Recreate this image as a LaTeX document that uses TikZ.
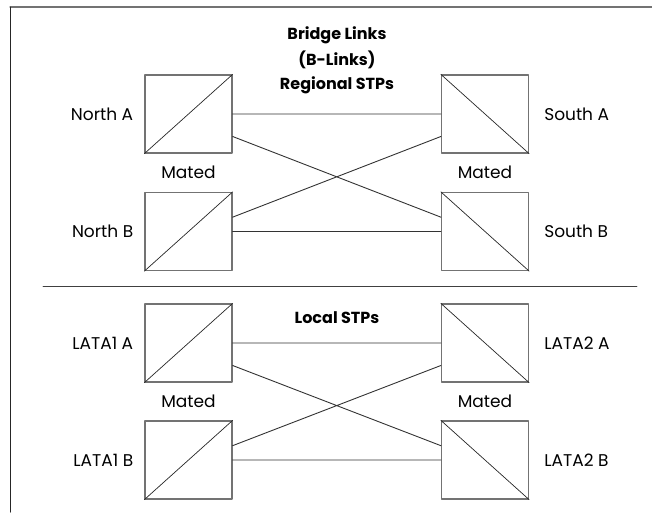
\documentclass[tikz,border=0pt]{standalone}
\usepackage{fontspec}
\setmainfont{Poppins}
\usetikzlibrary{positioning,calc}
\begin{document}
\begin{tikzpicture}[x=1pt, y=-1pt, line join=round, line cap=round,
    stp/.style={draw=black!55, line width=1.2pt, minimum width=87pt, minimum height=78pt, inner sep=0pt},
    diag/.style={black!85, line width=0.7pt},
    lbl/.style={font=\fontsize{17}{20}\selectfont, inner sep=0pt},
    ttl/.style={font=\fontsize{16}{19}\selectfont\bfseries, inner sep=0pt},
    link/.style={black!80, line width=0.9pt}]
    \useasboundingbox (0,0) rectangle (652,512);
    % frame and separator
    \draw[black!55, line width=1.2pt] (10,7)--(652,7);
    \draw[black!85, line width=1pt] (10,7)--(10,512);
    \draw[black!75, line width=0.9pt] (43,286)--(637,286);
    % STP boxes
    \foreach \n/\y in {nA/114, nB/231.5, lA/343, lB/460}{
        \node[stp] (\n) at (188.5,\y) {};
        \draw[diag] (\n.south west)--(\n.north east);
    }
    \foreach \n/\y in {sA/114, sB/231.5, rA/343, rB/460}{
        \node[stp] (\n) at (485,\y) {};
        \draw[diag] (\n.north west)--(\n.south east);
    }
    % names
    \node[lbl, left=11pt of nA] (tnA) {North A};
    \node[lbl, left=11pt of nB] (tnB) {North B};
    \node[lbl, right=15pt of sA] (tsA) {South A};
    \node[lbl, right=15pt of sB] (tsB) {South B};
    \node[lbl, left=11pt of lA] (tlA) {LATA1 A};
    \node[lbl, left=11pt of lB] (tlB) {LATA1 B};
    \node[lbl, right=15pt of rA] (trA) {LATA2 A};
    \node[lbl, right=15pt of rB] (trB) {LATA2 B};
    \node[lbl] (mN) at ($(nA)!0.5!(nB)$) {Mated};
    \node[lbl] (mS) at ($(sA)!0.5!(sB)$) {Mated};
    \node[lbl] (mL) at ($(lA)!0.5!(lB)$) {Mated};
    \node[lbl] (mR) at ($(rA)!0.5!(rB)$) {Mated};
    \node[ttl] (t1) at (337,35) {Bridge Links};
    \node[ttl] (t2) at (337,60) {(B-Links)};
    \node[ttl] (t3) at (337,85) {Regional STPs};
    \node[ttl] (t4) at (337,318) {Local STPs};
    % links
    \draw[link] (nA.east)--(sA.west) (nB.east)--(sB.west)
        (nA.-27)--(sB.162) (nB.18)--(sA.207);
    \draw[link] (lA.east)--(rA.west) (lB.east)--(rB.west)
        (lA.-27)--(rB.162) (lB.18)--(rA.207);
\end{tikzpicture}
\end{document}
